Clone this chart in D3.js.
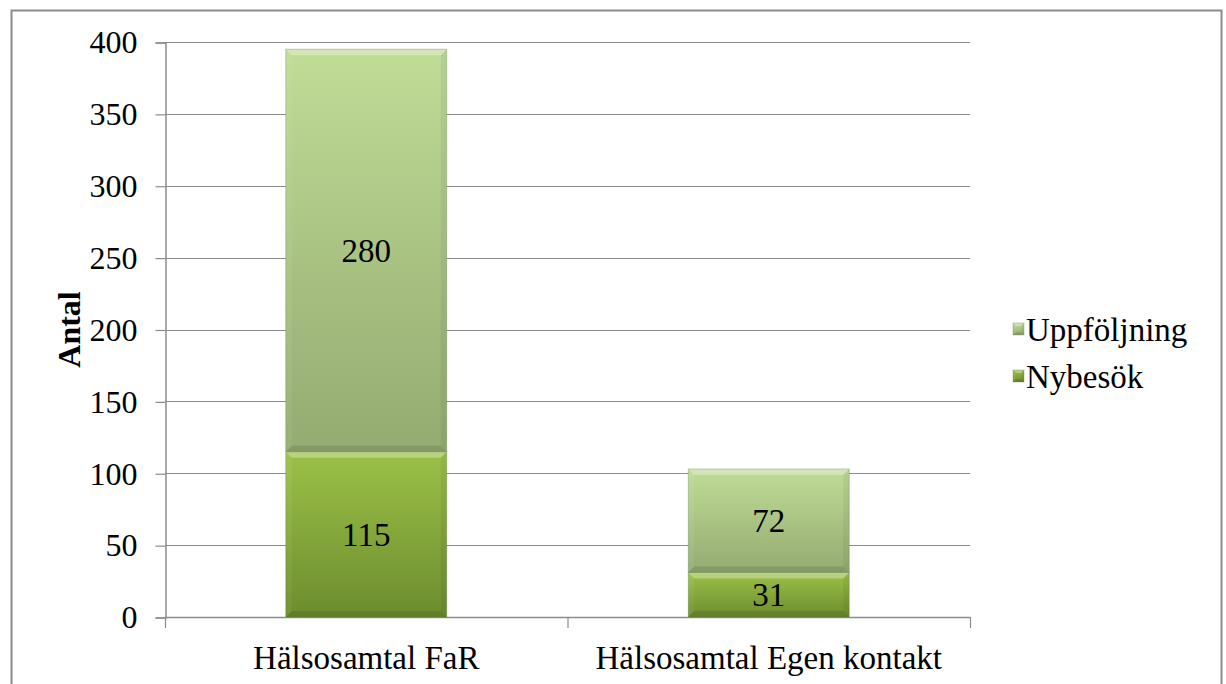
<!DOCTYPE html>
<html>
<head>
<meta charset="utf-8">
<script src="https://cdn.jsdelivr.net/npm/d3@7"></script>
<style>
  html, body { margin: 0; padding: 0; background: #fff; }
  svg { display: block; }
  svg text { font-family: "Liberation Serif", "Times New Roman", Tinos, serif; }
</style>
</head>
<body>
<svg id="chart" width="1226" height="684"></svg>
<script>
const categories = ["Hälsosamtal FaR", "Hälsosamtal Egen kontakt"];
const nybesok = [115, 31];
const uppfoljning = [280, 72];
const seriesNames = ["Nybesök", "Uppföljning"];
const yTicks = [0, 50, 100, 150, 200, 250, 300, 350, 400];

const svg = d3.select("#chart");
const W = 1226, H = 684;
const m = { left: 165, right: 256, top: 42, bottom: 67 };
const x0 = m.left, x1 = W - m.right, y0 = H - m.bottom, y1 = m.top;
const FS = 33;

svg.append("path")
  .attr("d", `M11.5,${H} L11.5,10.5 L1221.5,10.5 L1221.5,${H}`)
  .attr("fill", "none").attr("stroke", "#8c8c8c").attr("stroke-width", 2);

const defs = svg.append("defs");
function grad(id, top, bottom) {
  const g = defs.append("linearGradient").attr("id", id)
    .attr("x1", 0).attr("y1", 0).attr("x2", 0).attr("y2", 1);
  g.append("stop").attr("offset", "0%").attr("stop-color", top);
  g.append("stop").attr("offset", "100%").attr("stop-color", bottom);
}
grad("gU", "#c0dc96", "#94ab71");
grad("gN", "#9cc148", "#6c8c2e");
const fills = { "Nybesök": "url(#gN)", "Uppföljning": "url(#gU)" };

const x = d3.scaleBand().domain(categories).range([x0, x1]).paddingInner(0.6).paddingOuter(0.3);
const y = d3.scaleLinear().domain([0, 400]).range([y0, y1]);

svg.append("g").selectAll("line").data(yTicks).join("line")
  .attr("x1", x0).attr("x2", x1)
  .attr("y1", d => Math.round(y(d)) + 0.5).attr("y2", d => Math.round(y(d)) + 0.5)
  .attr("stroke", "#8c8c8c").attr("stroke-width", 1.2);

const yAxis = svg.append("g").attr("transform", `translate(${x0 + 0.5},0.5)`)
  .call(d3.axisLeft(y).tickValues(yTicks).tickSize(10).tickPadding(18));
yAxis.attr("font-family", null).attr("font-size", null);
yAxis.select(".domain").attr("stroke", "#8c8c8c").attr("stroke-width", 1.5);
yAxis.selectAll(".tick line").attr("stroke", "#8c8c8c").attr("stroke-width", 1.2);
yAxis.selectAll("text").style("font-size", "32px").attr("fill", "#000");

const xBound = [x0, (x0 + x1) / 2, x1];
svg.append("line").attr("x1", x0).attr("x2", x1).attr("y1", y0 + 0.5).attr("y2", y0 + 0.5)
  .attr("stroke", "#8c8c8c").attr("stroke-width", 1.5);
svg.append("g").selectAll("line").data(xBound).join("line")
  .attr("x1", d => d + 0.5).attr("x2", d => d + 0.5)
  .attr("y1", y0).attr("y2", y0 + 11)
  .attr("stroke", "#8c8c8c").attr("stroke-width", 1.2);
svg.append("g").selectAll("text").data(categories).join("text")
  .attr("x", d => x(d) + x.bandwidth() / 2).attr("y", y0 + 52)
  .attr("text-anchor", "middle").style("font-size", FS + "px")
  .text(d => d);

svg.append("text")
  .attr("transform", `translate(80,${(y0 + y1) / 2}) rotate(-90)`)
  .attr("text-anchor", "middle").style("font-size", "32px")
  .attr("font-weight", "bold").text("Antal");

const table = categories.map((c, i) => ({ cat: c, "Nybesök": nybesok[i], "Uppföljning": uppfoljning[i] }));
const stacked = d3.stack().keys(seriesNames)(table);

function drawBevelRect(g, bx, by, bw, bh, fill, bev) {
  g.append("rect").attr("x", bx).attr("y", by).attr("width", bw).attr("height", bh).attr("fill", fill);
  const b = Math.min(bev, bh / 3);
  g.append("path").attr("d", `M${bx},${by} L${bx + bw},${by} L${bx + bw - b},${by + b} L${bx + b},${by + b} Z`)
    .attr("fill", "#ffffff").attr("opacity", 0.3);
  g.append("path").attr("d", `M${bx},${by} L${bx + b},${by + b} L${bx + b},${by + bh - b} L${bx},${by + bh} Z`)
    .attr("fill", "#ffffff").attr("opacity", 0.06);
  g.append("path").attr("d", `M${bx + bw},${by} L${bx + bw - b},${by + b} L${bx + bw - b},${by + bh - b} L${bx + bw},${by + bh} Z`)
    .attr("fill", "#000000").attr("opacity", 0.05);
  g.append("path").attr("d", `M${bx},${by + bh} L${bx + b},${by + bh - b} L${bx + bw - b},${by + bh - b} L${bx + bw},${by + bh} Z`)
    .attr("fill", "#000000").attr("opacity", 0.1);
  g.append("rect").attr("x", bx).attr("y", by).attr("width", bw).attr("height", bh)
    .attr("fill", "none").attr("stroke", "#5f6e45").attr("stroke-opacity", 0.3).attr("stroke-width", 1);
}

const barsG = svg.append("g");
stacked.forEach(layer => {
  layer.forEach(seg => {
    const bx = x(seg.data.cat), bw = x.bandwidth();
    const by = y(seg[1]), bh = y(seg[0]) - y(seg[1]);
    drawBevelRect(barsG, bx, by, bw, bh, fills[layer.key], 6);
    barsG.append("text")
      .attr("x", bx + bw / 2).attr("y", by + bh / 2)
      .attr("dy", "0.35em").attr("text-anchor", "middle")
      .style("font-size", FS + "px").attr("fill", "#000")
      .text(seg[1] - seg[0]);
  });
});

const legendItems = seriesNames.slice().reverse();
const lg = svg.append("g").attr("transform", "translate(1013,0)");
legendItems.forEach((name, i) => {
  const cy = 329 + i * 47;
  drawBevelRect(lg, 0, cy - 6, 11, 12, fills[name], 3);
  lg.append("text").attr("x", 13).attr("y", cy).attr("dy", "0.35em")
    .style("font-size", FS + "px").text(name);
});
</script>
</body>
</html>
